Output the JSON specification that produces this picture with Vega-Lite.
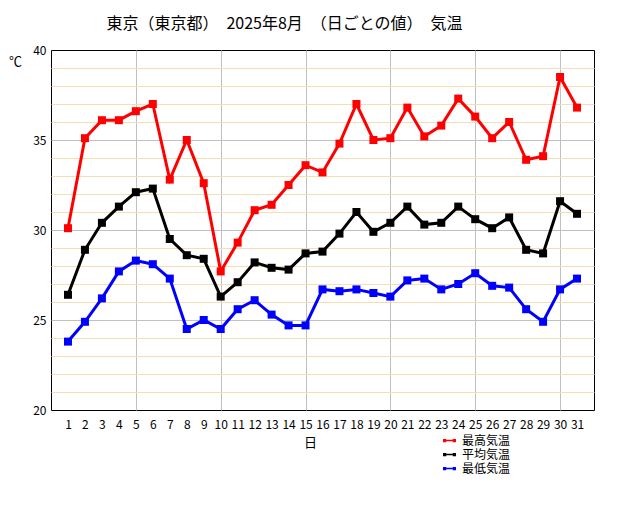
{
  "$schema": "https://vega.github.io/schema/vega-lite/v6.json",
  "width": 543,
  "height": 360,
  "autosize": {"type": "none"},
  "padding": {"left": 51, "top": 50, "right": 50, "bottom": 100},
  "background": "white",
  "title": {
    "text": "東京（東京都）　2025年8月　（日ごとの値）　気温",
    "anchor": "middle",
    "frame": "group",
    "dx": -38,
    "offset": 12,
    "fontSize": 16,
    "fontWeight": "normal",
    "font": "Noto Sans CJK JP",
    "color": "#000000"
  },
  "data": {
    "values": [
      {"day": 1, "type": "最高気温", "value": 30.1}, {"day": 2, "type": "最高気温", "value": 35.1}, {"day": 3, "type": "最高気温", "value": 36.1},
      {"day": 4, "type": "最高気温", "value": 36.1}, {"day": 5, "type": "最高気温", "value": 36.6}, {"day": 6, "type": "最高気温", "value": 37.0},
      {"day": 7, "type": "最高気温", "value": 32.8}, {"day": 8, "type": "最高気温", "value": 35.0}, {"day": 9, "type": "最高気温", "value": 32.6},
      {"day": 10, "type": "最高気温", "value": 27.7}, {"day": 11, "type": "最高気温", "value": 29.3}, {"day": 12, "type": "最高気温", "value": 31.1},
      {"day": 13, "type": "最高気温", "value": 31.4}, {"day": 14, "type": "最高気温", "value": 32.5}, {"day": 15, "type": "最高気温", "value": 33.6},
      {"day": 16, "type": "最高気温", "value": 33.2}, {"day": 17, "type": "最高気温", "value": 34.8}, {"day": 18, "type": "最高気温", "value": 37.0},
      {"day": 19, "type": "最高気温", "value": 35.0}, {"day": 20, "type": "最高気温", "value": 35.1}, {"day": 21, "type": "最高気温", "value": 36.8},
      {"day": 22, "type": "最高気温", "value": 35.2}, {"day": 23, "type": "最高気温", "value": 35.8}, {"day": 24, "type": "最高気温", "value": 37.3},
      {"day": 25, "type": "最高気温", "value": 36.3}, {"day": 26, "type": "最高気温", "value": 35.1}, {"day": 27, "type": "最高気温", "value": 36.0},
      {"day": 28, "type": "最高気温", "value": 33.9}, {"day": 29, "type": "最高気温", "value": 34.1}, {"day": 30, "type": "最高気温", "value": 38.5},
      {"day": 31, "type": "最高気温", "value": 36.8},
      {"day": 1, "type": "平均気温", "value": 26.4}, {"day": 2, "type": "平均気温", "value": 28.9}, {"day": 3, "type": "平均気温", "value": 30.4},
      {"day": 4, "type": "平均気温", "value": 31.3}, {"day": 5, "type": "平均気温", "value": 32.1}, {"day": 6, "type": "平均気温", "value": 32.3},
      {"day": 7, "type": "平均気温", "value": 29.5}, {"day": 8, "type": "平均気温", "value": 28.6}, {"day": 9, "type": "平均気温", "value": 28.4},
      {"day": 10, "type": "平均気温", "value": 26.3}, {"day": 11, "type": "平均気温", "value": 27.1}, {"day": 12, "type": "平均気温", "value": 28.2},
      {"day": 13, "type": "平均気温", "value": 27.9}, {"day": 14, "type": "平均気温", "value": 27.8}, {"day": 15, "type": "平均気温", "value": 28.7},
      {"day": 16, "type": "平均気温", "value": 28.8}, {"day": 17, "type": "平均気温", "value": 29.8}, {"day": 18, "type": "平均気温", "value": 31.0},
      {"day": 19, "type": "平均気温", "value": 29.9}, {"day": 20, "type": "平均気温", "value": 30.4}, {"day": 21, "type": "平均気温", "value": 31.3},
      {"day": 22, "type": "平均気温", "value": 30.3}, {"day": 23, "type": "平均気温", "value": 30.4}, {"day": 24, "type": "平均気温", "value": 31.3},
      {"day": 25, "type": "平均気温", "value": 30.6}, {"day": 26, "type": "平均気温", "value": 30.1}, {"day": 27, "type": "平均気温", "value": 30.7},
      {"day": 28, "type": "平均気温", "value": 28.9}, {"day": 29, "type": "平均気温", "value": 28.7}, {"day": 30, "type": "平均気温", "value": 31.6},
      {"day": 31, "type": "平均気温", "value": 30.9},
      {"day": 1, "type": "最低気温", "value": 23.8}, {"day": 2, "type": "最低気温", "value": 24.9}, {"day": 3, "type": "最低気温", "value": 26.2},
      {"day": 4, "type": "最低気温", "value": 27.7}, {"day": 5, "type": "最低気温", "value": 28.3}, {"day": 6, "type": "最低気温", "value": 28.1},
      {"day": 7, "type": "最低気温", "value": 27.3}, {"day": 8, "type": "最低気温", "value": 24.5}, {"day": 9, "type": "最低気温", "value": 25.0},
      {"day": 10, "type": "最低気温", "value": 24.5}, {"day": 11, "type": "最低気温", "value": 25.6}, {"day": 12, "type": "最低気温", "value": 26.1},
      {"day": 13, "type": "最低気温", "value": 25.3}, {"day": 14, "type": "最低気温", "value": 24.7}, {"day": 15, "type": "最低気温", "value": 24.7},
      {"day": 16, "type": "最低気温", "value": 26.7}, {"day": 17, "type": "最低気温", "value": 26.6}, {"day": 18, "type": "最低気温", "value": 26.7},
      {"day": 19, "type": "最低気温", "value": 26.5}, {"day": 20, "type": "最低気温", "value": 26.3}, {"day": 21, "type": "最低気温", "value": 27.2},
      {"day": 22, "type": "最低気温", "value": 27.3}, {"day": 23, "type": "最低気温", "value": 26.7}, {"day": 24, "type": "最低気温", "value": 27.0},
      {"day": 25, "type": "最低気温", "value": 27.6}, {"day": 26, "type": "最低気温", "value": 26.9}, {"day": 27, "type": "最低気温", "value": 26.8},
      {"day": 28, "type": "最低気温", "value": 25.6}, {"day": 29, "type": "最低気温", "value": 24.9}, {"day": 30, "type": "最低気温", "value": 26.7},
      {"day": 31, "type": "最低気温", "value": 27.3}
    ]
  },
  "encoding": {
    "x": {
      "field": "day",
      "type": "quantitative",
      "scale": {"domain": [0, 32], "nice": false},
      "axis": {
        "values": [1, 2, 3, 4, 5, 6, 7, 8, 9, 10, 11, 12, 13, 14, 15, 16, 17, 18, 19, 20, 21, 22, 23, 24, 25, 26, 27, 28, 29, 30, 31],
        "title": "日",
        "titleX": 259,
        "titleY": 32,
        "titleBaseline": "middle",
        "titleFontSize": 13,
        "titleFontWeight": "normal",
        "ticks": false,
        "domain": false,
        "labelPadding": 9,
        "labelFontSize": 12,
        "labelFlush": false,
        "labelOverlap": false,
        "gridColor": "#c0c0c0",
        "gridOpacity": {"condition": {"test": "datum.value % 5 === 0", "value": 1}, "value": 0}
      }
    },
    "y": {
      "field": "value",
      "type": "quantitative",
      "scale": {"domain": [20, 40], "nice": false, "zero": false},
      "axis": {
        "values": [20, 21, 22, 23, 24, 25, 26, 27, 28, 29, 30, 31, 32, 33, 34, 35, 36, 37, 38, 39, 40],
        "labelExpr": "datum.value % 5 === 0 ? datum.label : ''",
        "title": "℃",
        "titleAngle": 0,
        "titleX": -36,
        "titleY": 11,
        "titleAlign": "center",
        "titleBaseline": "middle",
        "titleFontSize": 13,
        "titleFontWeight": "normal",
        "ticks": false,
        "domain": false,
        "labelPadding": 5,
        "labelFontSize": 12,
        "labelFlush": false,
        "labelOverlap": false,
        "gridColor": {"condition": {"test": "datum.value % 5 === 0", "value": "#c0c0c0"}, "value": "#f5deb3"},
        "gridOpacity": {"condition": {"test": "datum.value <= 20 || datum.value >= 40", "value": 0}, "value": 1}
      }
    },
    "color": {
      "field": "type",
      "type": "nominal",
      "scale": {"domain": ["最高気温", "平均気温", "最低気温"], "range": ["#ff0000", "#000000", "#0000ff"]},
      "legend": {
        "orient": "none",
        "legendX": 392,
        "legendY": 384,
        "title": null,
        "labelFontSize": 12,
        "labelOffset": 6,
        "rowPadding": 1,
        "symbolSize": 169,
        "symbolStrokeWidth": 0,
        "symbolType": "M-1,-0.25H-0.5V0.25H-1Z M0.5,-0.25H1V0.25H0.5Z M-0.5,-0.1H0.5V0.1H-0.5Z",
        "encode": {
          "symbols": {
            "update": {
              "fill": {"scale": "color", "field": "value"},
              "stroke": {"value": "transparent"}
            }
          }
        }
      }
    }
  },
  "layer": [
    {"mark": {"type": "line", "strokeWidth": 3}},
    {"mark": {"type": "point", "shape": "square", "size": 64, "filled": true, "opacity": 1}}
  ],
  "config": {
    "font": "Noto Sans CJK JP",
    "view": {"stroke": "#000000", "strokeWidth": 1},
    "axis": {"labelColor": "#000000", "titleColor": "#000000", "labelFont": "Noto Sans CJK JP", "titleFont": "Noto Sans CJK JP"},
    "legend": {"labelColor": "#000000", "labelFont": "Noto Sans CJK JP"}
  }
}
